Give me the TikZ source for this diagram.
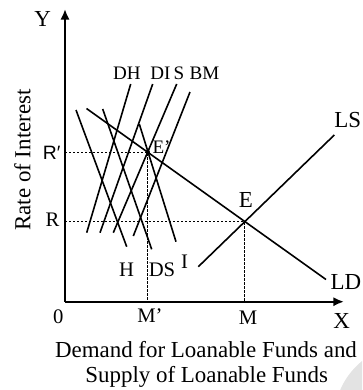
\documentclass[tikz,border=0pt]{standalone}
\usepackage{fontspec}
\setmainfont{Liberation Serif}
\newfontfamily\lsans{Liberation Sans}
\usetikzlibrary{arrows.meta}
\begin{document}
\begin{tikzpicture}[x=0.75pt,y=-0.75pt,
  axis/.style={line width=1.6pt,-{Latex[length=8pt,width=7pt]}},
  curve/.style={line width=1.2pt},
  guide/.style={line width=0.55pt,dash pattern=on 1.8pt off 1.2pt},
  lbl/.style={inner sep=0pt,font=\fontsize{15.5}{18}\selectfont},
  small/.style={inner sep=0pt,font=\fontsize{14.3}{16}\selectfont},
  big/.style={inner sep=0pt,font=\fontsize{17.2}{20}\selectfont}]
\useasboundingbox (0,0) rectangle (362,390);
\clip (0,0) rectangle (362,390);
% watermark disc
\fill[gray!22] (410,420) circle (76);
% axes
\coordinate (O) at (65,301.7);
\coordinate (Ytip) at (65,9);
\coordinate (Xtip) at (344,301.7);
\draw[axis] (O) -- (Ytip);
\draw[axis] (O) -- (Xtip);
% key points
\coordinate (E) at (244.3,221.7);
\coordinate (Ep) at (147.8,152);
\coordinate (Ry) at (65,221.7);
\coordinate (Rpy) at (65,152);
\coordinate (Mx) at (244.3,301.7);
\coordinate (Mpx) at (147.8,301.7);
% aggregate curves
\coordinate (LDa) at (86.5,108.5);
\coordinate (LDb) at (326,279.5);
\coordinate (LSa) at (198.3,266.7);
\coordinate (LSb) at (334.3,135);
\draw[curve] (LDa) -- (LDb);
\draw[curve] (LSa) -- (LSb);
% supply components
\coordinate (DHa) at (130.7,84);  \coordinate (DHb) at (86.7,232.7);
\coordinate (DIa) at (152.7,84);  \coordinate (DIb) at (100,232.7);
\coordinate (Sa) at (176.7,84);   \coordinate (Sb) at (113.3,232.7);
\coordinate (BMa) at (190,92);    \coordinate (BMb) at (133.3,236);
\draw[curve] (DHa) -- (DHb);
\draw[curve] (DIa) -- (DIb);
\draw[curve] (Sa) -- (Sb);
\draw[curve] (BMa) -- (BMb);
% demand components
\coordinate (Ha) at (76,110);     \coordinate (Hb) at (126.7,246.7);
\coordinate (DSa) at (102.7,109); \coordinate (DSb) at (151.7,249.3);
\coordinate (Ia) at (139.3,124);  \coordinate (Ib) at (176,241.7);
\draw[curve] (Ha) -- (Hb);
\draw[curve] (DSa) -- (DSb);
\draw[curve] (Ia) -- (Ib);
% guides
\draw[guide] (Rpy) -- (Ep) -- (Mpx);
\draw[guide] (Ry) -- (E) -- (Mx);
\fill (Ep) circle (2.2);
% labels
\node[big] (ylab) at (42.7,19) {Y};
\node[big] (xlab) at (341.7,321) {X};
\node[lbl] (zero) at (58.3,317) {0};
\node[lbl] (mplab) at (150,315.5) {M’};
\node[lbl] (mlab) at (248,318) {M};
\node[lbl] (rlab) at (52.5,220) {R};
\node[inner sep=0pt,font=\lsans\fontsize{14.5}{17}\selectfont] (rplab) at (51.7,152.7) {R′};
\node[big] (elab) at (246,200) {E};
\node[small] (eplab) at (161.5,147) {E’};
\node[big,anchor=east] (lslab) at (361.5,120.5) {LS};
\node[big,anchor=east] (ldlab) at (361.5,281.7) {LD};
\node[small] (dhlab) at (127,73) {DH};
\node[small] (dilab) at (160.5,73) {DI};
\node[small] (slab) at (179,73) {S};
\node[small] (bmlab) at (204.5,73) {BM};
\node[lbl] (hlab) at (126.7,270) {H};
\node[lbl] (dslab) at (162,270) {DS};
\node[lbl] (ilab) at (184.5,262) {I};
\node[big,rotate=90] (ylabel) at (22.5,160) {Rate of Interest};
\node[big] (xlabel1) at (206,350) {Demand for Loanable Funds and};
\node[big] (xlabel2) at (206.7,376.7) {Supply of Loanable Funds};
\end{tikzpicture}
\end{document}
